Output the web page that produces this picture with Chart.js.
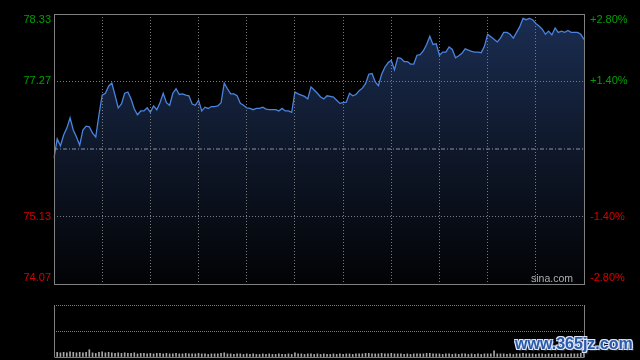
<!DOCTYPE html>
<html>
<head>
<meta charset="utf-8">
<script src="https://cdn.jsdelivr.net/npm/chart.js@4.4.0/dist/chart.umd.min.js"></script>
<style>
  html, body { margin: 0; padding: 0; background: #000; }
  #wrap { position: relative; width: 640px; height: 360px; overflow: hidden; background: #000; }
  #price { position: absolute; left: 0; top: 0; }
  #vol { position: absolute; left: 0; top: 300px; }
  #wm {
    position: absolute; left: 515px; top: 335px;
    font: bold 16px "Liberation Sans", Arial, sans-serif;
    color: #2b5aa6; letter-spacing: 0;
    text-shadow: 1px 1px 0 #dce6ff, -1px -1px 0 #dce6ff, 1px -1px 0 #dce6ff, -1px 1px 0 #dce6ff, 2px 2px 1px #333;
  }
</style>
</head>
<body>
<div id="wrap">
  <canvas id="price" width="640" height="300"></canvas>
  <canvas id="vol" width="640" height="60"></canvas>
  <div id="wm">www.365jz.com</div>
</div>
<script>
// previous close and axis ticks
var prevClose = 76.20;
var priceTicks = [74.07, 75.13, 76.20, 77.27, 78.33];
var pctLabels = ['-2.80%', '-1.40%', '', '+1.40%', '+2.80%'];

// price every 2 minutes, 09:30 -> 16:00 (HK session)
var prices = [
  76.06, 76.36, 76.25, 76.42, 76.53, 76.69, 76.50, 76.39, 76.26, 76.50,
  76.56, 76.55, 76.45, 76.39, 76.74, 77.05, 77.08, 77.19, 77.24, 77.05,
  76.85, 76.91, 77.08, 77.10, 76.99, 76.83, 76.74, 76.80, 76.80, 76.85,
  76.78, 76.88, 76.82, 76.93, 77.08, 76.93, 76.89, 77.08, 77.15, 77.06,
  77.07, 77.05, 77.04, 76.91, 76.89, 76.97, 76.80, 76.86, 76.84, 76.87,
  76.87, 76.88, 76.93, 77.24, 77.15, 77.07, 77.07, 77.04, 76.92, 76.89,
  76.85, 76.84, 76.82, 76.84, 76.84, 76.86, 76.83, 76.82, 76.82, 76.82,
  76.80, 76.84, 76.80, 76.80, 76.78, 77.10, 77.07, 77.05, 77.03, 76.99,
  77.18, 77.13, 77.08, 77.02, 76.99, 77.04, 77.03, 77.02, 76.97, 76.92,
  76.93, 76.94, 77.08, 77.04, 77.06, 77.12, 77.16, 77.23, 77.38, 77.39,
  77.26, 77.20, 77.38, 77.49, 77.56, 77.60, 77.45, 77.64, 77.63, 77.58,
  77.58, 77.54, 77.54, 77.68, 77.69, 77.75, 77.85, 77.98, 77.85, 77.86,
  77.68, 77.73, 77.73, 77.81, 77.77, 77.64, 77.67, 77.71, 77.78, 77.76,
  77.74, 77.73, 77.73, 77.72, 77.82, 78.01, 77.97, 77.93, 77.89, 77.95,
  78.04, 78.04, 78.01, 77.95, 78.04, 78.13, 78.26, 78.24, 78.26, 78.24,
  78.18, 78.14, 78.09, 78.01, 78.06, 78.00, 78.11, 78.04, 78.06, 78.04,
  78.07, 78.04, 78.04, 78.04, 78.01, 77.93
];

var volumes = [
  16, 9, 8, 9, 8, 10, 9, 8, 9, 8,
  9, 14, 8, 7, 9, 10, 8, 9, 8, 7,
  8, 7, 8, 7, 7, 8, 6, 7, 7, 6,
  7, 6, 7, 7, 6, 7, 6, 6, 7, 6,
  6, 7, 6, 6, 6, 7, 6, 6, 5, 6,
  6, 6, 7, 8, 6, 6, 5, 6, 6, 5,
  6, 5, 6, 5, 5, 6, 5, 6, 5, 5,
  6, 5, 5, 6, 5, 8, 6, 6, 5, 6,
  6, 5, 6, 5, 6, 5, 5, 6, 5, 6,
  5, 6, 6, 5, 6, 6, 6, 7, 7, 6,
  6, 6, 7, 6, 6, 7, 6, 6, 6, 5,
  6, 5, 6, 6, 6, 6, 7, 7, 6, 6,
  6, 5, 6, 6, 5, 6, 5, 6, 6, 5,
  6, 5, 6, 5, 6, 6, 6, 12, 6, 6,
  6, 5, 6, 5, 6, 6, 7, 6, 6, 6,
  5, 6, 6, 5, 6, 5, 6, 5, 6, 6,
  5, 6, 6, 6, 7, 8
];

function pad(n) { return (n < 10 ? '0' : '') + n; }

var times = [];
for (var k = 0; k < prices.length; k++) {
    var m = k * 2;
    var mins = m < 150 ? 9 * 60 + 30 + m : 13 * 60 + (m - 150);
    times.push(pad(Math.floor(mins / 60)) + ':' + pad(mins % 60));
}

var gridColor = '#7a7a7a';
var labelFont = '11px "Liberation Sans", Arial, sans-serif';

// solid frame round the price area
var frame = {
    id: 'frame',
    afterDraw: function(chart) {
        var a = chart.chartArea, ctx = chart.ctx;
        ctx.save();
        ctx.strokeStyle = '#808080';
        ctx.lineWidth = 1;
        ctx.strokeRect(Math.round(a.left) + 0.5, Math.round(a.top) + 0.5,
            Math.round(a.right - a.left), Math.round(a.bottom - a.top));
        ctx.restore();
    }
};

// price / percent labels on both sides
var sideLabels = {
    id: 'sideLabels',
    afterDraw: function(chart) {
        var a = chart.chartArea, ctx = chart.ctx, y = chart.scales.y;
        ctx.save();
        ctx.font = labelFont;
        ctx.textBaseline = 'middle';
        priceTicks.forEach(function(v, i) {
            if (v === prevClose) return;
            var py = y.getPixelForValue(v);
            py = Math.max(a.top + 6, Math.min(a.bottom - 6.5, py));
            ctx.fillStyle = v > prevClose ? '#00a000' : '#d80000';
            ctx.textAlign = 'right';
            ctx.fillText(v.toFixed(2), a.left - 3, py);
            ctx.textAlign = 'left';
            ctx.fillText(pctLabels[i], a.right + 6, py);
        });
        ctx.font = '10.5px "Liberation Sans", Arial, sans-serif';
        ctx.fillStyle = '#b0b0b0';
        ctx.textAlign = 'right';
        ctx.textBaseline = 'alphabetic';
        ctx.fillText('sina.com', a.right - 11, a.bottom - 2);
        ctx.restore();
    }
};

new Chart(document.getElementById('price'), {
    type: 'line',
    data: {
        labels: times,
        datasets: [{
            data: times.map(function() { return prevClose; }),
            borderColor: '#8a98ae',
            borderWidth: 1,
            borderDash: [4, 2, 1, 2],
            pointRadius: 0,
            fill: false
        }, {
            data: prices,
            borderColor: '#4b83de',
            borderWidth: 1.3,
            pointRadius: 0,
            tension: 0,
            fill: 'start',
            backgroundColor: function(c) {
                var a = c.chart.chartArea;
                if (!a) return 'transparent';
                var g = c.chart.ctx.createLinearGradient(0, a.top, 0, a.bottom);
                g.addColorStop(0, '#1a2d52');
                g.addColorStop(0.5, '#0f182a');
                g.addColorStop(1, '#020305');
                return g;
            }
        }]
    },
    options: {
        responsive: false,
        animation: false,
        events: [],
        layout: { padding: { left: 54, right: 56, top: 14, bottom: 16 } },
        plugins: { legend: { display: false }, tooltip: { enabled: false } },
        scales: {
            x: {
                offset: false,
                ticks: { display: false },
                grid: {
                    z: 1,
                    drawTicks: false,
                    color: function(c) {
                        var i = c.index;
                        return (i % 15 === 0 && i > 0 && i < times.length - 1) ? gridColor : 'transparent';
                    }
                },
                border: { display: false, dash: [1, 2] }
            },
            y: {
                min: priceTicks[0],
                max: priceTicks[priceTicks.length - 1],
                afterBuildTicks: function(s) {
                    s.ticks = priceTicks.map(function(v) { return { value: v }; });
                },
                ticks: { display: false },
                grid: {
                    z: 1,
                    drawTicks: false,
                    color: function(c) {
                        var v = c.tick && c.tick.value;
                        return (v === 75.13 || v === 77.27) ? gridColor : 'transparent';
                    }
                },
                border: { display: false, dash: [1, 2] }
            }
        }
    },
    plugins: [frame, sideLabels]
});

// volume panel frame
var volFrame = {
    id: 'volFrame',
    afterDraw: function(chart) {
        var a = chart.chartArea, ctx = chart.ctx;
        var l = Math.round(a.left) + 0.5, r = Math.round(a.right) + 0.5;
        ctx.save();
        ctx.strokeStyle = '#808080';
        ctx.lineWidth = 1;
        ctx.beginPath();
        ctx.moveTo(l, a.top); ctx.lineTo(l, a.bottom);
        ctx.moveTo(r, a.top); ctx.lineTo(r, a.bottom);
        ctx.moveTo(l, Math.round(a.bottom) + 0.5); ctx.lineTo(r, Math.round(a.bottom) + 0.5);
        ctx.stroke();
        ctx.restore();
    }
};

new Chart(document.getElementById('vol'), {
    type: 'bar',
    data: {
        labels: times,
        datasets: [{
            data: volumes,
            backgroundColor: '#a8a8a8',
            barThickness: 1
        }]
    },
    options: {
        responsive: false,
        animation: false,
        events: [],
        layout: { padding: { left: 54, right: 56, top: 5, bottom: 3 } },
        plugins: { legend: { display: false }, tooltip: { enabled: false } },
        scales: {
            x: {
                offset: false,
                ticks: { display: false },
                grid: { display: false, drawTicks: false },
                border: { display: false }
            },
            y: {
                min: 0,
                max: 100,
                afterBuildTicks: function(s) {
                    s.ticks = [{ value: 0 }, { value: 50 }, { value: 100 }];
                },
                ticks: { display: false },
                grid: {
                    z: 1,
                    drawTicks: false,
                    color: function(c) {
                        var v = c.tick && c.tick.value;
                        return v > 0 ? gridColor : 'transparent';
                    }
                },
                border: { display: false, dash: [1, 1] }
            }
        }
    },
    plugins: [volFrame]
});
</script>
</body>
</html>
